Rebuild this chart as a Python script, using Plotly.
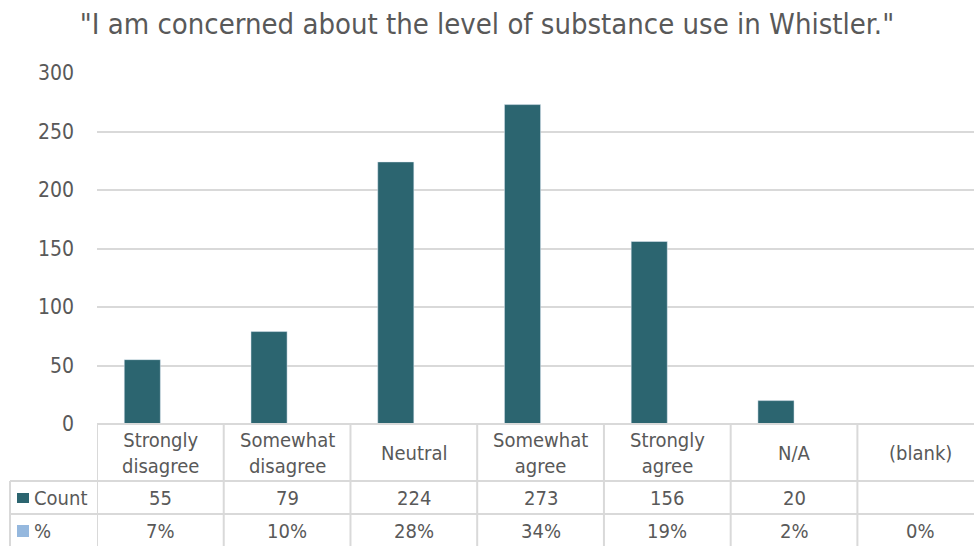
import plotly.graph_objects as go

categories = ["Strongly<br>disagree", "Somewhat<br>disagree", "Neutral", "Somewhat<br>agree",
              "Strongly<br>agree", "N/A", "(blank)"]
counts = [55, 79, 224, 273, 156, 20, None]
pct = [0.07, 0.10, 0.28, 0.34, 0.19, 0.02, 0.00]
pct_labels = ["7%", "10%", "28%", "34%", "19%", "2%", "0%"]
count_labels = ["" if c is None else str(c) for c in counts]
yticks = [0, 50, 100, 150, 200, 250, 300]

W, H = 974, 546
ML, MT, MB = 97, 73, 122
PH = H - MT - MB
PW = W - ML
XMIN, XMAX = -0.5, 6.42
FONT = "DejaVu Sans Condensed, Lato, sans-serif"
TXT = "#595959"
GRID = "#D9D9D9"
BAR = "#2C6570"
LIGHT = "#95B8DE"
TS = 20

def py(p):
    return (H - MB - p) / PH

def pxp(p):
    return (p - ML) / PW

x = list(range(len(categories)))
fig = go.Figure()
fig.add_trace(go.Bar(x=x, y=counts, name="Count", marker_color=BAR, showlegend=False))
fig.add_trace(go.Bar(x=x, y=pct, name="%", marker_color=LIGHT, showlegend=False))

shapes = []
lw = 2
shapes.append(dict(type="line", xref="paper", yref="paper", x0=0, x1=1, y0=py(424), y1=py(424),
                   line=dict(color=GRID, width=lw)))
for yy in [481, 514]:
    shapes.append(dict(type="line", xref="paper", yref="paper", x0=pxp(10), x1=1, y0=py(yy), y1=py(yy),
                       line=dict(color=GRID, width=lw)))
for k in range(len(categories)):
    shapes.append(dict(type="line", xref="x", yref="paper", x0=k - 0.5, x1=k - 0.5, y0=py(424), y1=py(H),
                       line=dict(color=GRID, width=lw)))
shapes.append(dict(type="line", xref="paper", yref="paper", x0=pxp(10), x1=pxp(10), y0=py(481), y1=py(H),
                   line=dict(color=GRID, width=lw)))
shapes.append(dict(type="rect", xref="paper", yref="paper", x0=pxp(17), x1=pxp(29), y0=py(503), y1=py(493),
                   fillcolor=BAR, line=dict(width=0)))
shapes.append(dict(type="rect", xref="paper", yref="paper", x0=pxp(17), x1=pxp(29), y0=py(537), y1=py(525),
                   fillcolor=LIGHT, line=dict(width=0)))

ann = []
for i, c in enumerate(categories):
    ann.append(dict(x=i, y=py(453), xref="x", yref="paper", text=c, showarrow=False, yanchor="middle",
                    font=dict(size=TS, color=TXT, family=FONT), align="center"))
    ann.append(dict(x=i, y=py(498), xref="x", yref="paper", text=count_labels[i], showarrow=False,
                    yanchor="middle", font=dict(size=TS, color=TXT, family=FONT)))
    ann.append(dict(x=i, y=py(531), xref="x", yref="paper", text=pct_labels[i], showarrow=False,
                    yanchor="middle", font=dict(size=TS, color=TXT, family=FONT)))
ann.append(dict(x=pxp(32), y=py(498), xref="paper", yref="paper", text="Count", showarrow=False,
                xanchor="left", yanchor="middle", font=dict(size=TS, color=TXT, family=FONT)))
ann.append(dict(x=pxp(32), y=py(531), xref="paper", yref="paper", text="%", showarrow=False,
                xanchor="left", yanchor="middle", font=dict(size=TS, color=TXT, family=FONT)))

fig.update_layout(
    width=W, height=H,
    margin=dict(l=ML, r=0, t=MT, b=MB),
    paper_bgcolor="white", plot_bgcolor="white",
    barmode="group", bargap=0.43, bargroupgap=0,
    title=dict(text='"I am concerned about the level of substance use in Whistler."',
               x=0.5, xref="container", y=1 - 24 / H, yref="container", yanchor="middle",
               font=dict(size=29, color=TXT, family=FONT)),
    xaxis=dict(range=[XMIN, XMAX], showticklabels=False, showgrid=False, zeroline=False,
               showline=False, ticks=""),
    yaxis=dict(range=[0, 300], tickvals=yticks, showgrid=True, gridcolor=GRID, gridwidth=2,
               zeroline=False, showline=False, ticks="", ticklabelstandoff=22,
               tickfont=dict(size=21, color=TXT, family=FONT)),
    shapes=shapes, annotations=ann,
)
fig.write_html("out.html")
